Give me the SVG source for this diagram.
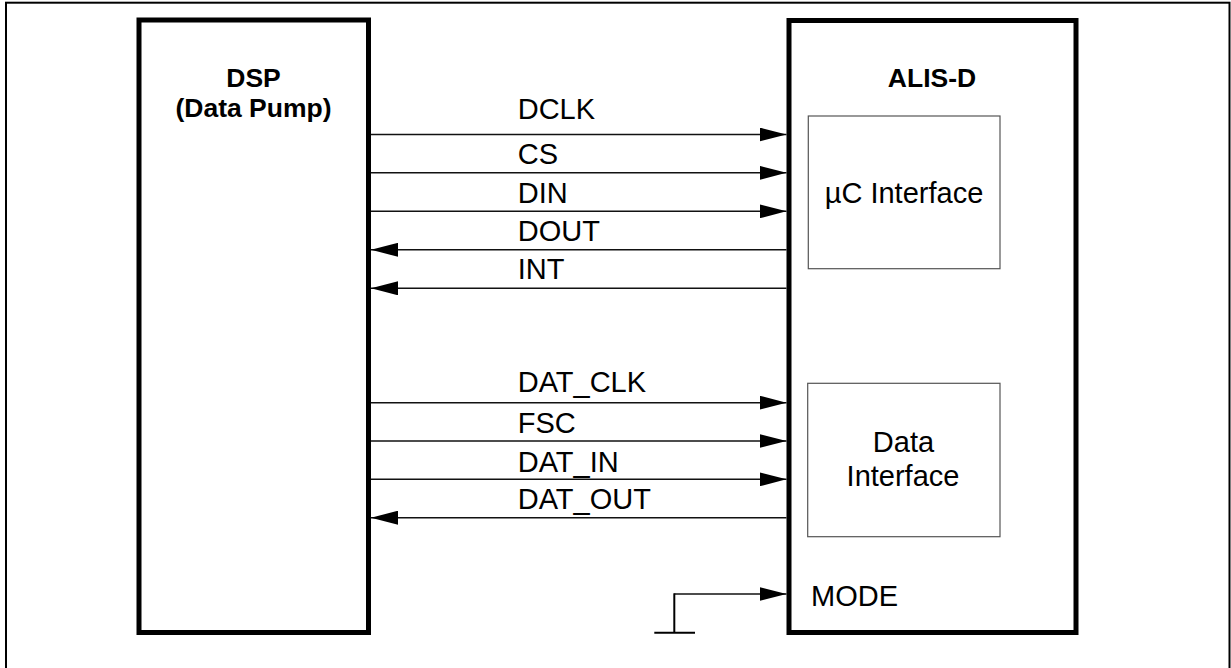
<svg xmlns="http://www.w3.org/2000/svg" width="1231" height="668" viewBox="0 0 1231 668">
<defs>
<style>
.lbl{font-family:"Liberation Sans",Arial,sans-serif;font-size:29px;fill:#000}
.bold{font-family:"Liberation Sans",Arial,sans-serif;font-size:26.5px;font-weight:bold;fill:#000}
.blk{fill:#fff;stroke:#000;stroke-width:5}
.sub{fill:#fff;stroke:#555;stroke-width:1.2}
.sig{stroke:#111;stroke-width:1.4;fill:none}
</style>
<marker id="ah" markerUnits="userSpaceOnUse" markerWidth="28" markerHeight="14" refX="27" refY="7" orient="auto">
<path d="M0,0 L27,7 L0,14 Z" fill="#000"/>
</marker>
</defs>
<rect width="1231" height="668" fill="#fff"/>
<rect id="frame" x="6" y="2.7" width="1223.5" height="700" fill="none" stroke="#000" stroke-width="2"/>
<g id="dsp">
<rect class="blk" x="139" y="20" width="229.5" height="612.5"/>
<text class="bold" x="253.5" y="87.3" text-anchor="middle">DSP</text>
<text class="bold" x="253.5" y="117" text-anchor="middle">(Data Pump)</text>
</g>
<g id="alis">
<rect class="blk" x="789" y="20.5" width="287" height="612"/>
<text class="bold" x="932" y="87.3" text-anchor="middle">ALIS-D</text>
</g>
<g id="uc">
<rect class="sub" x="808.3" y="116" width="191.7" height="152.7"/>
<text class="lbl" x="904" y="203" text-anchor="middle">µC Interface</text>
</g>
<g id="dataif">
<rect class="sub" x="807.7" y="383.3" width="192.3" height="153.4"/>
<text class="lbl" x="903.5" y="451.7" text-anchor="middle">Data</text>
<text class="lbl" x="903" y="485.7" text-anchor="middle">Interface</text>
</g>
<g id="connectors">
<line class="sig" x1="371" y1="134.5" x2="786.5" y2="134.5" marker-end="url(#ah)"/>
<line class="sig" x1="371" y1="172.8" x2="786.5" y2="172.8" marker-end="url(#ah)"/>
<line class="sig" x1="371" y1="211.3" x2="786.5" y2="211.3" marker-end="url(#ah)"/>
<line class="sig" x1="786.5" y1="249.8" x2="371" y2="249.8" marker-end="url(#ah)"/>
<line class="sig" x1="786.5" y1="288.3" x2="371" y2="288.3" marker-end="url(#ah)"/>
<line class="sig" x1="371" y1="402.7" x2="786.5" y2="402.7" marker-end="url(#ah)"/>
<line class="sig" x1="371" y1="441" x2="786.5" y2="441" marker-end="url(#ah)"/>
<line class="sig" x1="371" y1="479.3" x2="786.5" y2="479.3" marker-end="url(#ah)"/>
<line class="sig" x1="786.5" y1="517.7" x2="371" y2="517.7" marker-end="url(#ah)"/>
<line class="sig" x1="674.3" y1="594" x2="786.5" y2="594" marker-end="url(#ah)"/>
<line x1="674.3" y1="593.3" x2="674.3" y2="632.7" stroke="#000" stroke-width="2"/>
<line x1="654.3" y1="632.7" x2="695" y2="632.7" stroke="#000" stroke-width="2"/>
</g>
<g id="labels">
<text class="lbl" x="517.7" y="119.3">DCLK</text>
<text class="lbl" x="517.7" y="164">CS</text>
<text class="lbl" x="517.7" y="203.3">DIN</text>
<text class="lbl" x="517.7" y="240.7">DOUT</text>
<text class="lbl" x="517.7" y="279.3">INT</text>
<text class="lbl" x="517.7" y="392.3">DAT_CLK</text>
<text class="lbl" x="517.7" y="432.7">FSC</text>
<text class="lbl" x="517.7" y="471.7">DAT_IN</text>
<text class="lbl" x="517.7" y="509.3">DAT_OUT</text>
<text class="lbl" x="811" y="605.7">MODE</text>
</g>
</svg>
